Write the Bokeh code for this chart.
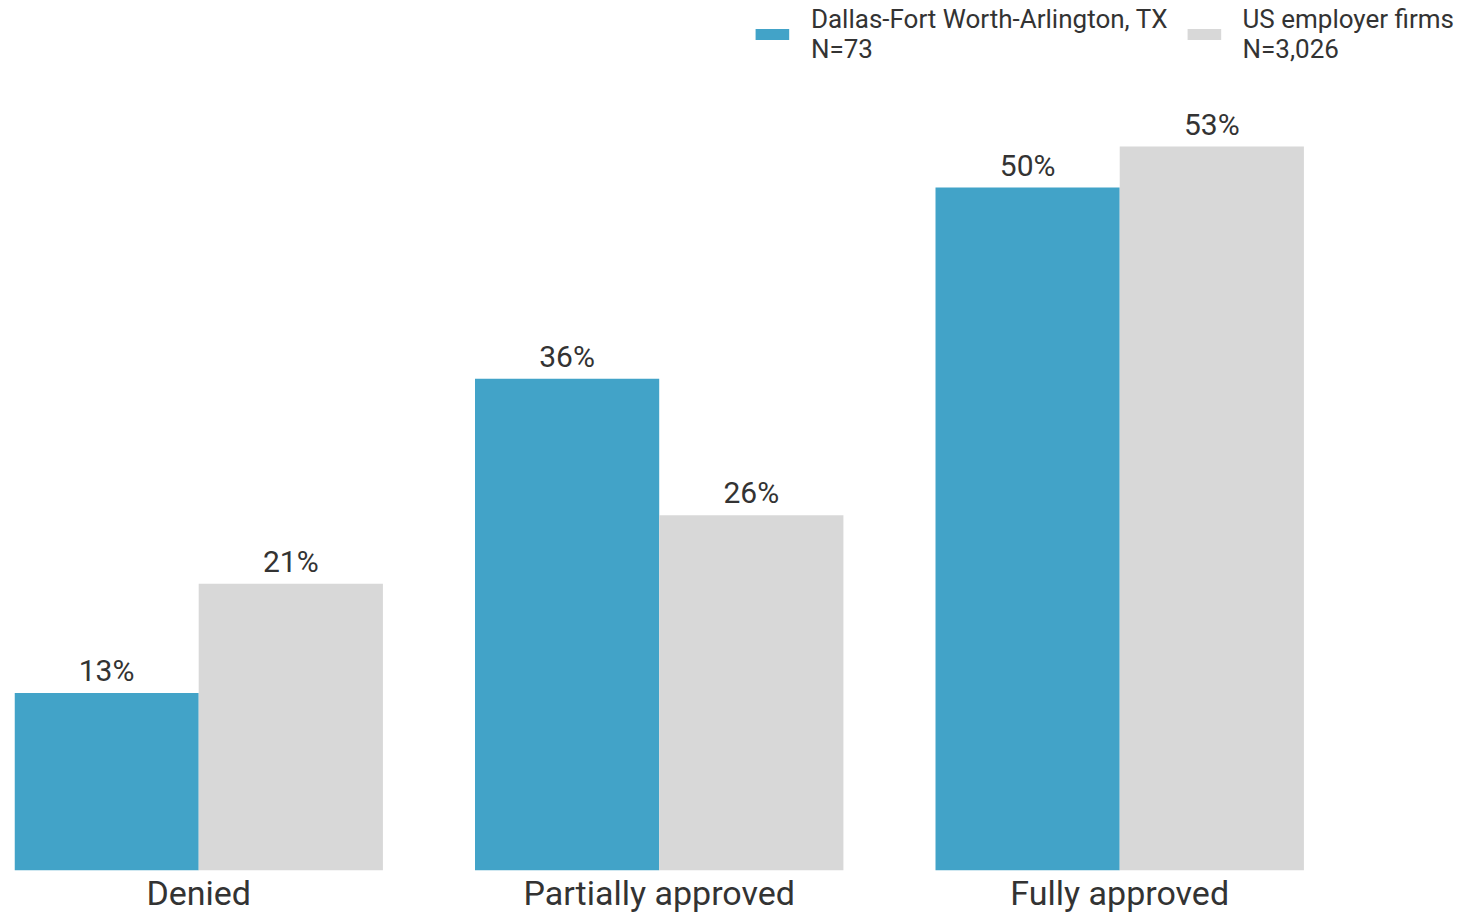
from bokeh.plotting import figure
from bokeh.models import Range1d, FixedTicker, Legend, LegendItem, ColumnDataSource
from bokeh.transform import dodge
from bokeh.core.properties import value
from bokeh.embed import file_html
from bokeh.resources import INLINE

categories = ["Denied", "Partially approved", "Fully approved"]
dallas = [13, 36, 50]
us_firms = [21, 26, 53]
series_names = ["Dallas-Fort Worth-Arlington, TX\nN=73", "US employer firms\nN=3,026"]
colors = ["#42A3C8", "#D8D8D8"]

pos = list(range(len(categories)))
src = ColumnDataSource(dict(
    x=pos,
    dallas=dallas,
    us=us_firms,
    dl=[f"{v}%" for v in dallas],
    ul=[f"{v}%" for v in us_firms],
))

FONT = value("Roboto")
TXT = "#333333"

p = figure(frame_width=1440, frame_height=866,
           x_range=Range1d(-0.4, 2.727), y_range=Range1d(0, 63.4),
           output_backend="svg", toolbar_location=None,
           min_border_left=14, min_border_right=4, min_border_top=4, min_border_bottom=0)

r1 = p.vbar(x=dodge('x', -0.2, range=p.x_range), top='dallas', width=0.4, source=src,
            fill_color=colors[0], line_color=None)
r2 = p.vbar(x=dodge('x', 0.2, range=p.x_range), top='us', width=0.4, source=src,
            fill_color=colors[1], line_color=None)

p.text(x=dodge('x', -0.2, range=p.x_range), y='dallas', text='dl', source=src,
       text_align="center", text_baseline="bottom", y_offset=-5,
       text_font=FONT, text_font_size="30px", text_color=TXT)
p.text(x=dodge('x', 0.2, range=p.x_range), y='us', text='ul', source=src,
       text_align="center", text_baseline="bottom", y_offset=-5,
       text_font=FONT, text_font_size="30px", text_color=TXT)

p.yaxis.visible = False
p.xaxis.ticker = FixedTicker(ticks=pos)
p.xaxis.major_label_overrides = {i: c for i, c in enumerate(categories)}
p.xaxis.axis_line_color = None
p.xaxis.major_tick_line_color = None
p.xaxis.minor_tick_line_color = None
p.xaxis.major_label_text_font = "Roboto"
p.xaxis.major_label_text_font_size = "34px"
p.xaxis.major_label_text_color = TXT
p.xaxis.major_label_standoff = -4
p.xgrid.visible = False
p.ygrid.visible = False
p.outline_line_color = None

legend = Legend(items=[LegendItem(label=series_names[0], renderers=[r1]),
                       LegendItem(label=series_names[1], renderers=[r2])],
                orientation="horizontal", location="top_right",
                label_text_font="Roboto", label_text_font_size="26px",
                label_text_color=TXT, glyph_width=42, glyph_height=14,
                spacing=15, label_standoff=18, padding=0, margin=0,
                border_line_color=None, background_fill_alpha=0)
p.add_layout(legend)

open("out.html", "w").write(file_html(p, INLINE))
